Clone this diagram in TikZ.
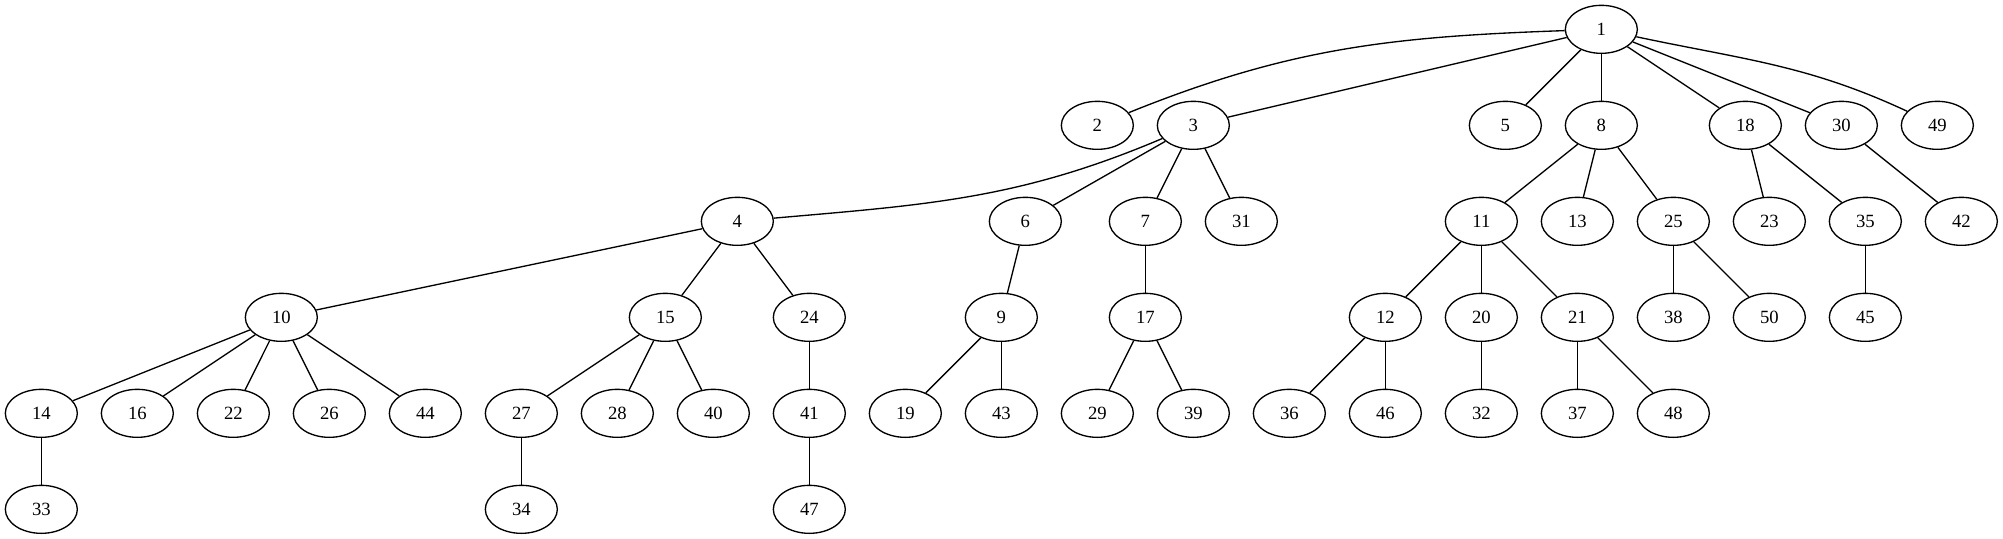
\documentclass[tikz,border=0pt]{standalone}
\usepackage{fontspec}
\setmainfont{Liberation Serif}
\usepackage{tikz}
\usetikzlibrary{shapes.geometric}
\tikzstyle{vertex} = [ellipse, draw=black, line width=1pt, minimum width=54pt, minimum height=36pt, inner sep=0pt, font=\fontsize{14pt}{16pt}\selectfont]
\tikzstyle{branch} = [line width=1pt]

\begin{document}
\begin{tikzpicture}
			[node distance=72pt]
			\useasboundingbox (0pt,0pt) rectangle (1502.25pt,-404.25pt);
			% bottom row first, the rest hangs off it
			\node (n14) [vertex] at (31pt,-310pt) {14};
			\node (n16) [vertex, right of = n14] {16};
			\node (n22) [vertex, right of = n16] {22};
			\node (n26) [vertex, right of = n22] {26};
			\node (n44) [vertex, right of = n26] {44};
			\node (n27) [vertex, right of = n44] {27};
			\node (n28) [vertex, right of = n27] {28};
			\node (n40) [vertex, right of = n28] {40};
			\node (n41) [vertex, right of = n40] {41};
			\node (n19) [vertex, right of = n41] {19};
			\node (n43) [vertex, right of = n19] {43};
			\node (n29) [vertex, right of = n43] {29};
			\node (n39) [vertex, right of = n29] {39};
			\node (n36) [vertex, right of = n39] {36};
			\node (n46) [vertex, right of = n36] {46};
			\node (n32) [vertex, right of = n46] {32};
			\node (n37) [vertex, right of = n32] {37};
			\node (n48) [vertex, right of = n37] {48};
			\node (n33) [vertex, below of = n14] {33};
			\node (n34) [vertex, below of = n27] {34};
			\node (n47) [vertex, below of = n41] {47};
			\node (n10) [vertex, above of = n22, xshift = 36pt] {10};
			\node (n15) [vertex, above of = n28, xshift = 36pt] {15};
			\node (n24) [vertex, above of = n41] {24};
			\node (n9) [vertex, above of = n43] {9};
			\node (n17) [vertex, above of = n29, xshift = 36pt] {17};
			\node (n12) [vertex, above of = n46] {12};
			\node (n20) [vertex, right of = n12] {20};
			\node (n21) [vertex, right of = n20] {21};
			\node (n38) [vertex, right of = n21] {38};
			\node (n50) [vertex, right of = n38] {50};
			\node (n45) [vertex, right of = n50] {45};
			\node (n4) [vertex, above of = n15, xshift = 54pt] {4};
			\node (n6) [vertex, above of = n9, xshift = 18pt] {6};
			\node (n7) [vertex, above of = n17] {7};
			\node (n31) [vertex, right of = n7] {31};
			\node (n11) [vertex, above of = n20] {11};
			\node (n13) [vertex, right of = n11] {13};
			\node (n25) [vertex, right of = n13] {25};
			\node (n23) [vertex, right of = n25] {23};
			\node (n35) [vertex, right of = n23] {35};
			\node (n42) [vertex, right of = n35] {42};
			\node (n3) [vertex, above of = n39, yshift = 144pt] {3};
			\node (n2) [vertex, left of = n3] {2};
			\node (n8) [vertex, above of = n13, xshift = 18pt] {8};
			\node (n5) [vertex, left of = n8] {5};
			\node (n18) [vertex, above of = n25, xshift = 54pt] {18};
			\node (n30) [vertex, right of = n18] {30};
			\node (n49) [vertex, right of = n30] {49};
			\node (n1) [vertex, above of = n8] {1};
			% edges
			\draw [branch] (n1) to[out=182, in=22] (n2);
			\draw [branch] (n1) -- (n3);
			\draw [branch] (n1) -- (n5);
			\draw [branch] (n1) -- (n8);
			\draw [branch] (n1) -- (n18);
			\draw [branch] (n1) -- (n30);
			\draw [branch] (n1) to[out=-12, in=155] (n49);
			\draw [branch] (n3) to[out=203, in=5] (n4);
			\draw [branch] (n3) -- (n6);
			\draw [branch] (n3) -- (n7);
			\draw [branch] (n3) -- (n31);
			\draw [branch] (n8) -- (n11);
			\draw [branch] (n8) -- (n13);
			\draw [branch] (n8) -- (n25);
			\draw [branch] (n18) -- (n23);
			\draw [branch] (n18) -- (n35);
			\draw [branch] (n30) -- (n42);
			\draw [branch] (n4) -- (n10);
			\draw [branch] (n4) -- (n15);
			\draw [branch] (n4) -- (n24);
			\draw [branch] (n6) -- (n9);
			\draw [branch] (n7) -- (n17);
			\draw [branch] (n11) -- (n12);
			\draw [branch] (n11) -- (n20);
			\draw [branch] (n11) -- (n21);
			\draw [branch] (n25) -- (n38);
			\draw [branch] (n25) -- (n50);
			\draw [branch] (n35) -- (n45);
			\draw [branch] (n10) -- (n14);
			\draw [branch] (n10) -- (n16);
			\draw [branch] (n10) -- (n22);
			\draw [branch] (n10) -- (n26);
			\draw [branch] (n10) -- (n44);
			\draw [branch] (n15) -- (n27);
			\draw [branch] (n15) -- (n28);
			\draw [branch] (n15) -- (n40);
			\draw [branch] (n24) -- (n41);
			\draw [branch] (n9) -- (n19);
			\draw [branch] (n9) -- (n43);
			\draw [branch] (n17) -- (n29);
			\draw [branch] (n17) -- (n39);
			\draw [branch] (n12) -- (n36);
			\draw [branch] (n12) -- (n46);
			\draw [branch] (n20) -- (n32);
			\draw [branch] (n21) -- (n37);
			\draw [branch] (n21) -- (n48);
			\draw [branch] (n14) -- (n33);
			\draw [branch] (n27) -- (n34);
			\draw [branch] (n41) -- (n47);
		\end{tikzpicture}
\end{document}
